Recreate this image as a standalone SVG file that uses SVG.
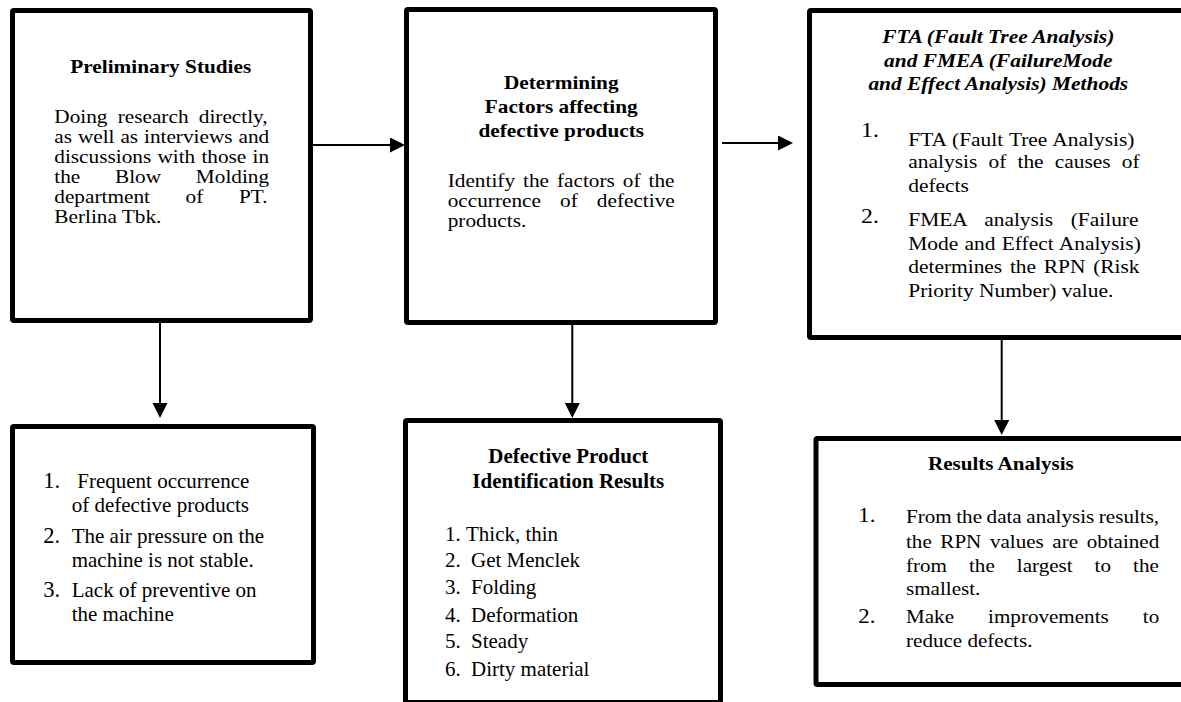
<svg xmlns="http://www.w3.org/2000/svg" width="1181" height="702" viewBox="0 0 1181 702">
<style>
.box{fill:#fff;stroke:#000;stroke-width:5}
.t{font-family:"Liberation Serif","Times New Roman",serif;fill:#000}
.b{font-weight:bold}
.bi{font-weight:bold;font-style:italic}
.c{text-anchor:middle}
.ln{stroke:#000;stroke-width:2;fill:none}
</style>
<defs>
<marker id="ah" markerUnits="userSpaceOnUse" markerWidth="16" markerHeight="16" refX="11" refY="7.5" orient="auto">
<path d="M0,0 L15,7.5 L0,15 Z" fill="#000"/>
</marker>
</defs>
<rect width="1181" height="702" fill="#fff"/>

<g id="connectors">
<line class="ln" x1="313" y1="145" x2="401" y2="145" marker-end="url(#ah)"/>
<line class="ln" x1="722" y1="143" x2="789" y2="143" marker-end="url(#ah)"/>
<line class="ln" x1="160" y1="323" x2="160" y2="414" marker-end="url(#ah)"/>
<line class="ln" x1="572.3" y1="325" x2="572.3" y2="414" marker-end="url(#ah)"/>
<line class="ln" x1="1001.7" y1="340" x2="1001.7" y2="431" marker-end="url(#ah)"/>
</g>

<g id="preliminary">
<rect class="box" x="12.5" y="10.5" width="298" height="310" rx="1.5"/>
<g class="t" font-size="18.5" transform="translate(54.3 0) scale(1.15 1)">
<text class="b c" x="92.6" y="72.7">Preliminary Studies</text>
<text x="0" y="123" word-spacing="4.3">Doing research directly,</text>
<text x="0" y="143" word-spacing="0.5">as well as interviews and</text>
<text x="0" y="163" word-spacing="0.8">discussions with those in</text>
<text x="0" y="183" word-spacing="25.6">the Blow Molding</text>
<text x="0" y="203" word-spacing="26.4">department of PT.</text>
<text x="0" y="223">Berlina Tbk.</text>
</g>
</g>

<g id="determining">
<rect class="box" x="406.5" y="9.5" width="309" height="313" rx="1.5"/>
<g class="t" font-size="19" transform="translate(447.7 0) scale(1.12 1)">
<text class="b c" x="101.4" y="89.3">Determining</text>
<text class="b c" x="101.4" y="113.3">Factors affecting</text>
<text class="b c" x="101.4" y="137.3">defective products</text>
<text x="0" y="187" word-spacing="2.4">Identify the factors of the</text>
<text x="0" y="207" word-spacing="12.3">occurrence of defective</text>
<text x="0" y="227">products.</text>
</g>
</g>

<g id="methods">
<rect class="box" x="809.5" y="10.5" width="400" height="327" rx="1.5"/>
<g class="t" font-size="18" transform="translate(908.3 0) scale(1.19 1)">
<text class="bi c" x="75.6" y="43.3">FTA (Fault Tree Analysis)</text>
<text class="bi c" x="75.6" y="66.7">and FMEA (FailureMode</text>
<text class="bi c" x="75.6" y="90">and Effect Analysis) Methods</text>
<text x="-39.7" y="137" font-size="20">1.</text>
<text x="0" y="146.5" word-spacing="0.7">FTA (Fault Tree Analysis)</text>
<text x="0" y="168.5" word-spacing="4.9">analysis of the causes of</text>
<text x="0" y="192.5">defects</text>
<text x="-39.7" y="223.3" font-size="20">2.</text>
<text x="0" y="226" word-spacing="10.3">FMEA analysis (Failure</text>
<text x="0" y="250" word-spacing="0.8">Mode and Effect Analysis)</text>
<text x="0" y="273.5" word-spacing="2">determines the RPN (Risk</text>
<text x="0" y="297">Priority Number) value.</text>
</g>
</g>

<g id="problems">
<rect class="box" x="12.5" y="426.5" width="301" height="236" rx="1.5"/>
<g class="t" font-size="21" transform="translate(71.7 0)">
<text x="-28.4" y="488.3" font-size="22.5">1.</text>
<text x="5.6" y="488.3">Frequent occurrence</text>
<text x="0" y="511.7">of defective products</text>
<text x="-28.4" y="542.7" font-size="22.5">2.</text>
<text x="0" y="542.7">The air pressure on the</text>
<text x="0" y="566.7">machine is not stable.</text>
<text x="-28.4" y="597.3" font-size="22.5">3.</text>
<text x="0" y="597.3">Lack of preventive on</text>
<text x="0" y="620.7">the machine</text>
</g>
</g>

<g id="identification">
<rect class="box" x="405.5" y="420.5" width="315" height="282" rx="1.5"/>
<g class="t" font-size="20" transform="translate(445 0) scale(1.05 1)">
<text class="b c" x="117.4" y="463.3">Defective Product</text>
<text class="b c" x="117.4" y="488.3">Identification Results</text>
<text x="0" y="540.7">1.</text>
<text x="20" y="540.7">Thick, thin</text>
<text x="0" y="566.7">2.</text>
<text x="24.8" y="566.7">Get Menclek</text>
<text x="0" y="594">3.</text>
<text x="24.8" y="594">Folding</text>
<text x="0" y="621.7">4.</text>
<text x="24.8" y="621.7">Deformation</text>
<text x="0" y="648.3">5.</text>
<text x="24.8" y="648.3">Steady</text>
<text x="0" y="676">6.</text>
<text x="24.8" y="676">Dirty material</text>
</g>
</g>

<g id="results">
<rect class="box" x="816" y="438.5" width="400" height="246" rx="1.5"/>
<g class="t" font-size="18.5" transform="translate(906 0) scale(1.14 1)">
<text class="b c" x="83.2" y="470">Results Analysis</text>
<text x="-41.8" y="522" font-size="20">1.</text>
<text x="0" y="523.3" word-spacing="-0.6">From the data analysis results,</text>
<text x="0" y="548.3" word-spacing="2.9">the RPN values are obtained</text>
<text x="0" y="571.7" word-spacing="14.7">from the largest to the</text>
<text x="0" y="595">smallest.</text>
<text x="-41.8" y="623.3" font-size="20">2.</text>
<text x="0" y="623.3" word-spacing="25.3">Make improvements to</text>
<text x="0" y="647.3">reduce defects.</text>
</g>
</g>
</svg>
